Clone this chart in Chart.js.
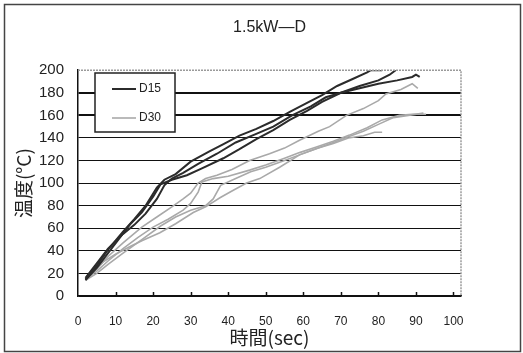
<!DOCTYPE html>
<html>
<head>
<meta charset="utf-8">
<script src="https://cdn.jsdelivr.net/npm/chart.js@4"></script>
<style>
  html, body { margin: 0; padding: 0; background: #fff; }
  #wrap { width: 523px; height: 353px; }
</style>
</head>
<body>
<div id="wrap"><canvas id="chart" width="523" height="353"></canvas></div>
<script>
// D15 runs (dark)
const timeD15a = [2, 5, 8, 12, 15, 18, 21, 23, 26, 30, 35, 39, 43, 47.5, 52, 56.4, 61, 65, 69, 73, 77, 78, 81];
const tempD15a = [15, 27, 41, 57, 68, 80, 96, 103, 108, 119, 128, 135, 142, 148, 155, 163, 171, 178, 186, 192, 198, 200, 200];
const timeD15b = [2, 5, 8, 11, 14, 17, 20, 22, 25, 29, 33, 38.7, 43, 47.5, 52, 56.4, 61, 65, 70, 75, 80, 83, 85];
const tempD15b = [14, 25, 38, 51, 64, 74, 88, 99, 103, 107, 113, 122, 130, 139, 147, 156, 164, 172, 180, 186, 191, 196, 201];
const timeD15c = [2, 5, 8, 12, 15, 18, 21, 23, 25, 28, 32, 37, 42, 47, 52, 57, 62, 66, 70, 75, 80, 85, 89, 90, 91];
const tempD15c = [16, 29, 42, 55, 63, 73, 86, 98, 104, 109, 117, 126, 136, 143, 150, 160, 168, 176, 180, 184, 188, 191, 194, 196, 194];

// D30 runs (gray)
const timeD30a = [2, 5, 8, 12, 17, 21, 25, 28, 30, 32, 34, 37, 41, 45.7, 51, 55, 59, 64, 67, 71.5, 76, 80, 82, 86, 89, 90.5];
const tempD30a = [14, 24, 35, 47, 61, 70, 79, 86, 91, 100, 104, 107, 112, 120, 126, 131, 138, 146, 150, 160, 166, 173, 179, 183, 188, 184];
const timeD30b = [2, 5, 8, 12, 16, 20, 24, 28, 30, 32, 33, 36, 40, 45.7, 50, 55, 59, 63.5, 68, 72.3, 77, 81, 85.6, 89, 92.7];
const tempD30b = [15, 22, 31, 42, 52, 61, 68, 76, 82, 92, 101, 104, 106, 111.5, 116, 122, 127, 132, 137, 142.5, 149, 156, 160, 161, 161];
const timeD30c = [2, 5, 8, 12, 17, 22, 26, 30, 34, 36, 38, 42, 46, 50, 55, 59, 64, 68, 72, 76, 79, 81];
const tempD30c = [14, 20, 28, 38, 50, 62, 70, 76, 80, 86, 98, 104, 110, 114, 120, 125, 131, 135, 140, 142, 145, 145];
const timeD30d = [2, 6.6, 10, 14, 17, 21.8, 26, 30.7, 34, 37.8, 41, 44.9, 48.4, 53.7, 59, 63, 68, 72, 76, 80, 84, 88, 92];
const tempD30d = [14, 30, 37, 44, 49, 56, 64, 74, 79, 87, 93, 100, 104, 114, 125, 130, 136, 141, 146, 152, 158, 160, 162];

const groupNames = ['D15', 'D30'];
const chartTitle = '1.5kW\u2014D';
const xTitle = '時間(sec)';
const yTitle = '温度(°C)';

const pairs = (xs, ys) => xs.map((x, i) => ({ x: x, y: ys[i] }));

const dark = '#2b2b2b';
const light = '#a9a9a9';

const runs = [
  [timeD15a, tempD15a, 0], [timeD15b, tempD15b, 0], [timeD15c, tempD15c, 0],
  [timeD30a, tempD30a, 1], [timeD30b, tempD30b, 1], [timeD30c, tempD30c, 1], [timeD30d, tempD30d, 1]
];

const datasets = runs.map(r => ({
  label: groupNames[r[2]],
  data: pairs(r[0], r[1]),
  showLine: true,
  borderColor: r[2] === 0 ? dark : light,
  borderWidth: r[2] === 0 ? 2 : 1.6,
  pointRadius: 0,
  tension: 0
}));

// frame, plot border, inward ticks, legend box
const decor = {
  id: 'decor',
  beforeDraw(chart) {
    const c = chart.ctx;
    c.save();
    c.fillStyle = '#fff';
    c.fillRect(0, 0, chart.width, chart.height);
    c.strokeStyle = '#444';
    c.lineWidth = 1.5;
    c.strokeRect(4.5, 4.5, 516, 347);
    c.restore();
  },
  afterDatasetsDraw(chart) {
    const c = chart.ctx;
    const a = chart.chartArea;
    const xs = chart.scales.x;
    c.save();
    // plot area top/right border (dotted gray)
    c.strokeStyle = '#9a9a9a';
    c.lineWidth = 1.5;
    c.setLineDash([2, 1]);
    c.beginPath();
    c.moveTo(a.left, a.top);
    c.lineTo(a.right, a.top);
    c.lineTo(a.right, a.bottom);
    c.stroke();
    c.setLineDash([]);
    // inward tick marks on x axis
    c.strokeStyle = '#111';
    c.lineWidth = 1.5;
    xs.ticks.forEach(t => {
      if (t.value === 0) return;
      const px = Math.round(xs.getPixelForValue(t.value)) + 0.5;
      c.beginPath();
      c.moveTo(px, a.bottom);
      c.lineTo(px, a.bottom - 4);
      c.stroke();
    });
    // legend box
    const bx = 95, by = 73, bw = 80, bh = 59;
    c.fillStyle = '#fff';
    c.fillRect(bx, by, bw, bh);
    c.strokeStyle = '#222';
    c.lineWidth = 1.5;
    c.strokeRect(bx, by, bw, bh);
    c.font = '12px "Liberation Sans", Arial, sans-serif';
    c.textBaseline = 'middle';
    groupNames.forEach((name, i) => {
      const ly = by + 16 + i * 29;
      c.strokeStyle = i === 0 ? dark : light;
      c.lineWidth = i === 0 ? 2 : 1.6;
      c.beginPath();
      c.moveTo(112, ly);
      c.lineTo(136, ly);
      c.stroke();
      c.fillStyle = '#222';
      c.fillText(name, 139, ly);
    });
    c.restore();
  }
};

new Chart(document.getElementById('chart'), {
  type: 'scatter',
  data: { datasets: datasets },
  plugins: [decor],
  options: {
    responsive: false,
    animation: false,
    layout: { padding: { left: 0, right: 62, top: 0, bottom: 0 } },
    plugins: {
      legend: { display: false },
      tooltip: { enabled: false },
      title: {
        display: true,
        fullSize: false,
        text: chartTitle,
        color: '#222',
        font: { family: '"Liberation Sans", Arial, sans-serif', size: 16, weight: 'normal' },
        padding: { top: 18, bottom: 33 }
      }
    },
    scales: {
      x: {
        type: 'linear',
        min: 0,
        max: 102,
        afterFit: s => { s.height = 57; },
        ticks: {
          stepSize: 10,
          includeBounds: false,
          padding: 18,
          color: '#222',
          font: { family: '"Liberation Sans", Arial, sans-serif', size: 12 }
        },
        grid: { display: true, drawOnChartArea: false, drawTicks: false },
        border: { display: true, color: '#111', width: 1.5 },
        title: {
          display: true,
          text: xTitle,
          color: '#222',
          font: { family: '"Noto Sans CJK JP", sans-serif', size: 19 },
          padding: { top: 0, bottom: 4 }
        }
      },
      y: {
        min: 0,
        max: 200,
        afterFit: s => { s.width = 78; },
        ticks: {
          stepSize: 20,
          padding: 14,
          color: '#222',
          font: { family: '"Liberation Sans", Arial, sans-serif', size: 15 }
        },
        grid: {
          drawTicks: false,
          color: ctx => ctx.tick.value === 200 ? 'rgba(0,0,0,0)' : '#111',
          lineWidth: ctx => (ctx.tick.value === 160 || ctx.tick.value === 180) ? 2 : 1
        },
        border: { display: true, color: '#111', width: 1.5 },
        title: {
          display: true,
          text: yTitle,
          color: '#222',
          font: { family: '"Noto Sans CJK JP", sans-serif', size: 19 },
          padding: { top: 12, bottom: 0 }
        }
      }
    }
  }
});
</script>
</body>
</html>
